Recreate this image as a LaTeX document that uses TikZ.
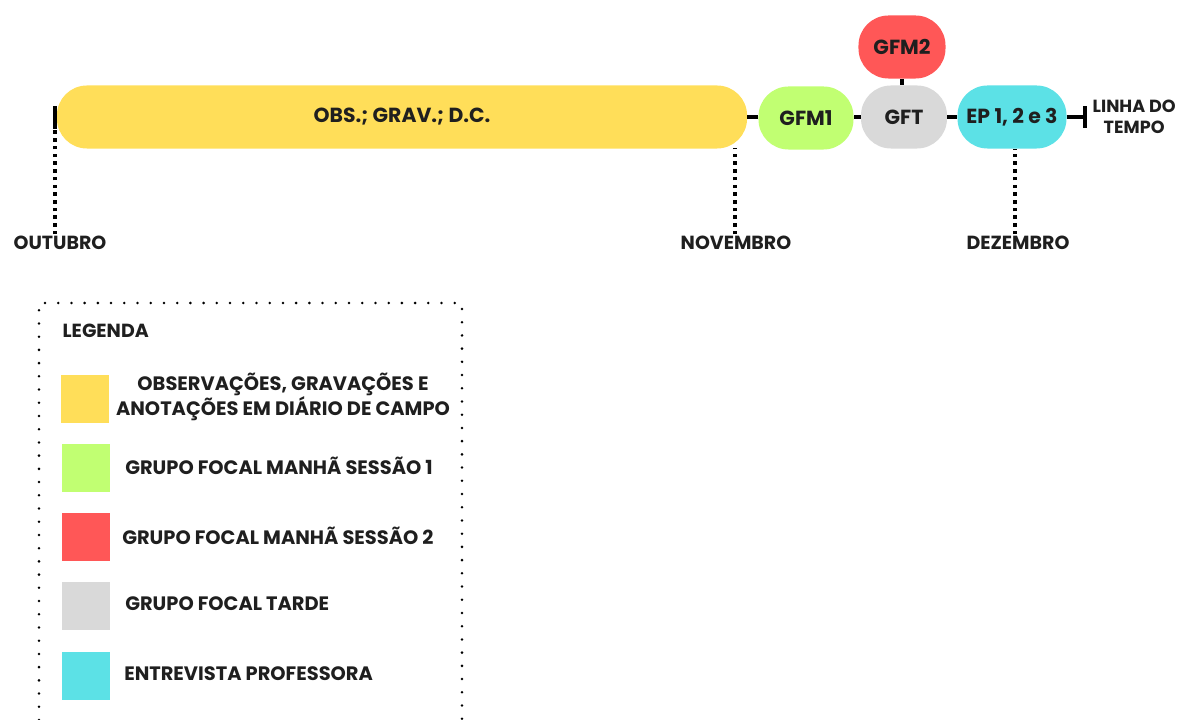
\documentclass[tikz,border=0pt]{standalone}
\usepackage{fontspec}
\setmainfont{Poppins}
\usepackage{tikz}
\usetikzlibrary{positioning}

\definecolor{amarelo}{HTML}{FFDE59}
\definecolor{verde}{HTML}{C1FF72}
\definecolor{vermelho}{HTML}{FF5757}
\definecolor{cinza}{HTML}{D9D9D9}
\definecolor{ciano}{HTML}{5CE1E6}
\definecolor{texto}{HTML}{1F1F1F}

\begin{document}
\begin{tikzpicture}[x=0.025cm, y=-0.025cm,
            etapa/.style={rectangle, rounded corners=0.75cm, minimum height=1.575cm, inner sep=0pt, align=center, text=texto, font=\bfseries\fontsize{14.5}{16}\selectfont},
            mes/.style={text=texto, inner sep=1pt, font=\bfseries\fontsize{13.5}{15}\selectfont},
            quadro/.style={rectangle, minimum size=1.175cm, inner sep=0pt},
            item/.style={text=texto, anchor=west, inner sep=0pt, align=center, font=\bfseries\fontsize{13.8}{18}\selectfont},
            tl/.style={line width=3pt, black},
            marco/.style={line width=2.5pt, black, dash pattern=on 2.5pt off 3pt},
            borda/.style={line width=2pt, black, line cap=round, dash pattern=on 0pt off 9.4pt}
        ]
            \useasboundingbox (0,0) rectangle (1191,720);

            \node[etapa, fill=amarelo, minimum width=17.25cm] (obs) at (402,117) {OBS.; GRAV.; D.C.};
            \node[etapa, fill=verde, minimum width=2.375cm] (gfm1) at (806,118) {GFM1};
            \node[etapa, fill=cinza, minimum width=2.15cm] (gft) at (904,117) {GFT};
            \node[etapa, fill=vermelho, minimum width=2.175cm] (gfm2) at (902,47) {GFM2};
            \node[etapa, fill=ciano, minimum width=2.725cm] (ep) at (1012,117) {EP 1, 2 e 3};
            \coordinate (ini) at (55,117);
            \coordinate (fim) at (1085,117);

            \draw[tl] (obs.east) -- (obs.east -| gfm1.west);
            \draw[tl] (gfm1.east |- gft.west) -- (gft.west);
            \draw[tl] (gft.east) -- (ep.west);
            \draw[tl] (gfm2.south) -- (gfm2.south |- gft.north);
            \draw[tl] (ep.east) -- (fim);
            \draw[line width=3.5pt] ([yshift=0.27cm]fim) -- ([yshift=-0.27cm]fim);
            \draw[line width=3.5pt] ([yshift=0.27cm]ini) -- ([yshift=-0.3cm]ini);

            \node[mes, align=center, right=0.15cm of fim, font=\bfseries\fontsize{12.5}{14.5}\selectfont] (linha) {LINHA DO\\TEMPO};

            \node[mes] (outubro) at (60,243) {OUTUBRO};
            \node[mes] (novembro) at (736,243) {NOVEMBRO};
            \node[mes] (dezembro) at (1018,243) {DEZEMBRO};
            \draw[marco] (outubro.north -| ini) -- ([yshift=-0.3cm]ini);
            \draw[marco] (novembro.north -| 735,0) -- (735,148);
            \draw[marco] (1015,0 |- dezembro.north) -- (1015,0 |- ep.south);

            \draw[borda] (39,720) |- (462,303) -- (462,720);
            \node[mes, anchor=west] (legenda) at (61,331) {LEGENDA};

            \node[quadro, fill=amarelo] (q1) at (85,399) {};
            \node[quadro, fill=verde] (q2) at (86,468) {};
            \node[quadro, fill=vermelho] (q3) at (86,537) {};
            \node[quadro, fill=cinza] (q4) at (86,606) {};
            \node[quadro, fill=ciano] (q5) at (86,676) {};

            \node[item, anchor=center] (t1) at (283,397) {OBSERVAÇÕES, GRAVAÇÕES E\\ANOTAÇÕES EM DIÁRIO DE CAMPO};
            \node[item] (t2) at (125,466) {GRUPO FOCAL MANHÃ SESSÃO 1};
            \node[item] (t3) at (122,536) {GRUPO FOCAL MANHÃ SESSÃO 2};
            \node[item] (t4) at (125,604) {GRUPO FOCAL TARDE};
            \node[item] (t5) at (124,674) {ENTREVISTA PROFESSORA};
        \end{tikzpicture}
\end{document}
